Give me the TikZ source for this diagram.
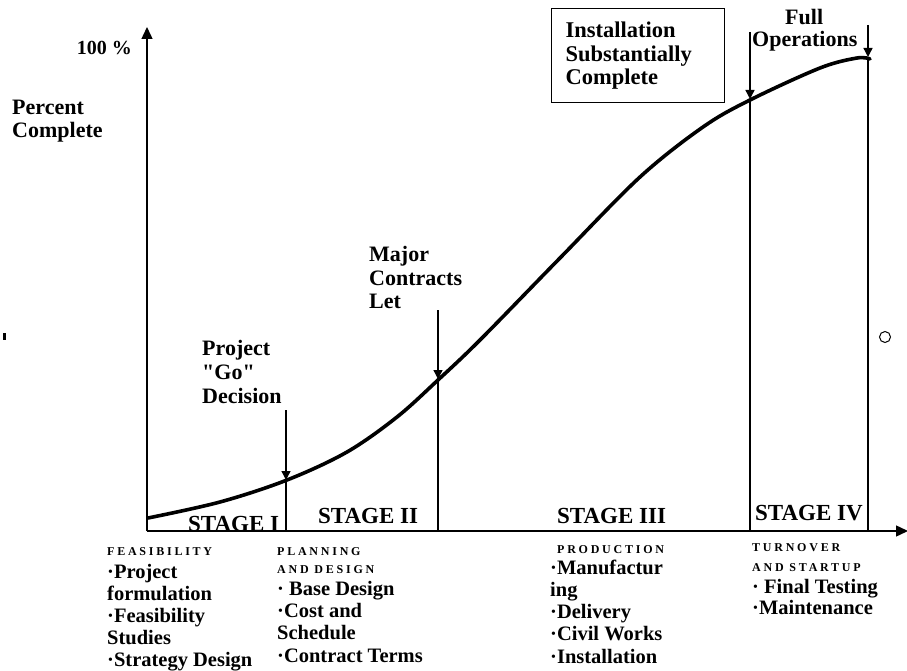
\documentclass[tikz,border=0pt]{standalone}
\usepackage{fontspec}
\setmainfont{Liberation Serif}
\newfontfamily\hdrfont{Liberation Serif}[LetterSpace=23]
\newfontfamily\plainqfont{Liberation Serif}[Ligatures=TeXOff]
\usetikzlibrary{arrows.meta}
\begin{document}
\begin{tikzpicture}[x=1pt,y=-1pt,
  ann/.style={anchor=base west, inner sep=0pt, font=\fontsize{22}{24}\selectfont\bfseries},
  lst/.style={anchor=base west, inner sep=0pt, font=\fontsize{20.5}{22}\selectfont\bfseries},
  hdr/.style={anchor=base west, inner sep=0pt, font=\fontsize{12}{14}\selectfont\hdrfont\bfseries},
  stg/.style={anchor=base west, inner sep=0pt, font=\fontsize{23}{25}\selectfont\bfseries},
  axisline/.style={line width=1.4pt},
  divline/.style={line width=1.4pt},
  tipline/.style={line width=1.4pt, -{Triangle[width=9pt,length=9pt]}},
]
\useasboundingbox (0,0) rectangle (907,671);

% axes
\coordinate (origin) at (147,531);
\coordinate (ytop) at (147,27);
\coordinate (xend) at (908,531);
\draw[axisline, -{Triangle[width=11pt,length=12pt]}] (origin) -- (ytop);
\draw[axisline, -{Triangle[width=11pt,length=12pt]}] (origin) -- (xend);

% S-curve
\draw[line width=3.6pt, line cap=round] plot[smooth, tension=0.55] coordinates
  {(148,518) (220,502) (287,480) (347,452) (397,417) (438,380) (480,340)
   (560,258) (640,177) (703,127) (750,100) (820,68) (857,58) (870,59)};

% milestone lines
\coordinate (gotop) at (286,410);
\coordinate (gopt)  at (286,480);
\coordinate (goax)  at (286,531);
\coordinate (mctop) at (438,310);
\coordinate (mcpt)  at (438,379);
\coordinate (mcax)  at (438,531);
\coordinate (istop) at (750,32);
\coordinate (ispt)  at (750,99);
\coordinate (isax)  at (750,531);
\coordinate (fotop) at (868,25);
\coordinate (fopt)  at (868,57);
\coordinate (foax)  at (868,531);
\draw[tipline] (gotop) -- (gopt);
\draw[divline] (gopt) -- (goax);
\draw[tipline] (mctop) -- (mcpt);
\draw[divline] (mcpt) -- (mcax);
\draw[tipline] (istop) -- (ispt);
\draw[divline] (ispt) -- (isax);
\draw[tipline] (fotop) -- (fopt);
\draw[divline] (fopt) -- (foax);

% y-axis labels
\node[anchor=base east, inner sep=0pt, font=\fontsize{20}{22}\selectfont\bfseries] (hundred) at (132,55) {100 \%};
\node[ann] (pc1) at (12,115) {Percent};
\node[ann] (pc2) at (12,138) {Complete};

% milestone labels
\node[ann] (go1) at (202,355) {Project};
\node[ann] (go2) at (202,379) {\plainqfont\bfseries "Go"};
\node[ann] (go3) at (202,403) {Decision};
\node[ann] (mc1) at (369,261) {Major};
\node[ann] (mc2) at (369,285) {Contracts};
\node[ann] (mc3) at (369,308) {Let};
\node[ann] (fo1) at (785,25) {Full};
\node[ann] (fo2) at (752,47) {Operations};

% box
\node[draw, line width=1.3pt, anchor=north west, minimum width=173pt, minimum height=94pt,
      text width=145pt, inner xsep=14pt, align=left,
      font=\fontsize{22.5}{23.5}\selectfont\bfseries] (box) at (551,8)
      {Installation\\Substantially\\Complete};

% stage labels
\node[stg] (s1) at (188,531) {STAGE I};
\node[stg] (s2) at (318,523) {STAGE II};
\node[stg] (s3) at (557,523) {STAGE III};
\node[stg] (s4) at (755,520) {STAGE IV};

% column 1
\node[hdr] (c1h) at (107,555) {FEASIBILITY};
\node[lst] (c1a) at (107,578) {·Project};
\node[lst] (c1b) at (107,600) {formulation};
\node[lst] (c1c) at (107,622) {·Feasibility};
\node[lst] (c1d) at (107,644) {Studies};
\node[lst] (c1e) at (107,666) {·Strategy Design};

% column 2
\node[hdr] (c2h) at (277,555) {PLANNING};
\node[hdr] (c2i) at (277,573) {AND DESIGN};
\node[lst] (c2a) at (277,595) {· Base Design};
\node[lst] (c2b) at (277,617) {·Cost and};
\node[lst] (c2c) at (277,639) {Schedule};
\node[lst] (c2d) at (277,662) {·Contract Terms};

% column 3
\node[hdr] (c3h) at (557,553) {PRODUCTION};
\node[lst] (c3a) at (550,574) {·Manufactur};
\node[lst] (c3b) at (550,596) {ing};
\node[lst] (c3c) at (550,618) {·Delivery};
\node[lst] (c3d) at (550,640) {·Civil Works};
\node[lst] (c3e) at (550,663) {·Installation};

% column 4
\node[hdr] (c4h) at (752,551) {TURNOVER};
\node[hdr] (c4i) at (752,571) {AND STARTUP};
\node[lst] (c4a) at (752,593) {· Final Testing};
\node[lst] (c4b) at (752,614) {·Maintenance};

% stray marks
\fill (3,333) rectangle (6,340);
\draw[line width=1pt] (885,337) circle (5.5pt);
\end{tikzpicture}
\end{document}
